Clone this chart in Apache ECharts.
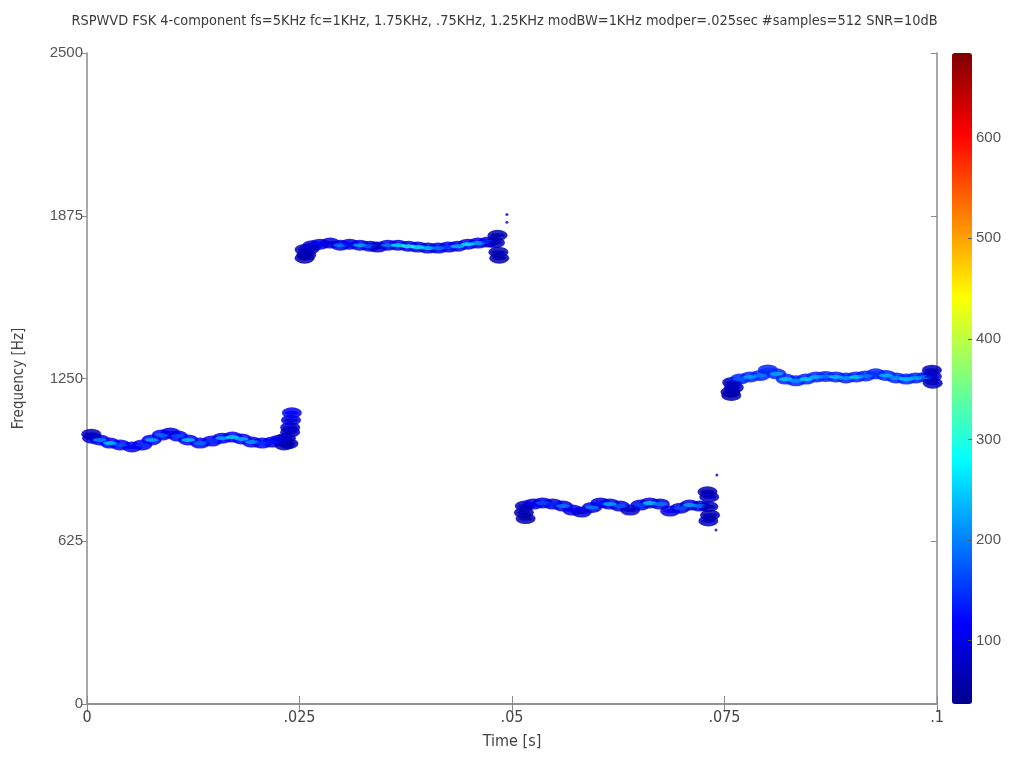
<!DOCTYPE html>
<html><head><meta charset="utf-8">
<script src="https://cdn.jsdelivr.net/npm/echarts@6/dist/echarts.min.js"></script>
<style>html,body{margin:0;padding:0;background:#fff}#c{width:1009px;height:767px}</style>
</head><body><div id="c"></div>
<script>
// ---- data ----
const titleText = 'RSPWVD FSK 4-component fs=5KHz fc=1KHz, 1.75KHz, .75KHz, 1.25KHz modBW=1KHz modper=.025sec #samples=512 SNR=10dB';
const xTickLabels = ['0', '.025', '.05', '.075', '.1'];
const yTicks = [0, 625, 1250, 1875, 2500];
const colorTicks = [100, 200, 300, 400, 500, 600];
const colorRange = [37, 684];

// component 1 (~1 kHz)
const seg1T = [0.0006,0.0015,0.0027,0.0039,0.0053,0.0065,0.0076,0.0088,0.0098,0.0107,0.0119,0.0133,0.0147,0.0159,0.0171,0.0182,0.0194,0.0206,0.0218,0.0227,0.0234,0.0239, 0.0005,0.0232,0.0237,0.0239,0.0240,0.0241];
const seg1F = [1021,1014,1002,995,987,995,1014,1033,1041,1029,1014,1002,1010,1021,1025,1018,1006,1002,1006,1014,1021,1044, 1036,995,1000,1062,1090,1118];
const seg1Z = [80,210,250,170,110,150,230,190,100,170,250,190,150,230,260,240,220,150,130,100,80,70, 70,70,60,80,90,110];
// component 2 (~1.75 kHz)
const seg2T = [0.0256,0.0265,0.0274,0.0286,0.0298,0.0309,0.0321,0.0333,0.0342,0.0354,0.0366,0.0378,0.0389,0.0401,0.0413,0.0425,0.0436,0.0448,0.0460,0.0472,0.0480, 0.0256,0.0258,0.0262,0.0483,0.0484,0.0485];
const seg2F = [1745,1760,1766,1770,1762,1766,1762,1758,1755,1762,1762,1758,1755,1751,1751,1755,1758,1766,1770,1774,1772, 1712,1725,1748,1800,1735,1712];
const seg2Z = [70,90,110,90,200,120,230,180,80,200,270,300,280,250,200,160,240,280,230,150,70, 60,60,70,60,60,60];
// component 3 (~0.75 kHz)
const seg3T = [0.0515,0.0525,0.0536,0.0548,0.0560,0.0571,0.0582,0.0594,0.0604,0.0615,0.0627,0.0639,0.0651,0.0662,0.0674,0.0686,0.0698,0.0709,0.0721,0.0731, 0.0514,0.0516,0.0730,0.0732,0.0733,0.0731];
const seg3F = [760,768,772,768,760,745,737,755,772,768,760,745,764,772,768,741,752,764,760,758, 735,712,815,795,725,703];
const seg3Z = [70,110,170,140,200,110,90,200,130,230,180,80,160,250,200,110,170,230,200,70, 60,60,60,70,60,70];
// component 4 (~1.25 kHz)
const seg4T = [0.0759,0.0768,0.0780,0.0792,0.0801,0.0811,0.0822,0.0834,0.0846,0.0858,0.0869,0.0881,0.0893,0.0905,0.0916,0.0928,0.0940,0.0952,0.0964,0.0975,0.0987,0.0994, 0.0757,0.0758,0.0761,0.0994,0.0995];
const seg4F = [1235,1248,1256,1262,1283,1268,1248,1241,1248,1256,1258,1256,1252,1256,1260,1268,1262,1252,1248,1252,1256,1258, 1198,1185,1215,1282,1232];
const seg4Z = [70,180,230,200,150,230,250,220,260,240,200,250,220,260,200,150,240,220,250,230,200,90, 60,60,70,70,70];
// spread (outer envelope) intensity per component
const edgeLevels = [110, 100, 95, 140];
// isolated specks
const speckT = [0.0494,0.0494,0.0741,0.0740];
const speckF = [1880,1850,879,668];
const speckZ = [90,90,100,100];

// ---- build ----
const segs = [[seg1T,seg1F,seg1Z],[seg2T,seg2F,seg2Z],[seg3T,seg3F,seg3Z],[seg4T,seg4F,seg4Z]];
const envData = [], coreData = [];
segs.forEach((s, k) => {
  s[0].forEach((t, i) => {
    envData.push([t, s[1][i], Math.min(edgeLevels[k], s[2][i])]);
    coreData.push([t, s[1][i], s[2][i]]);
  });
});
const speckData = speckT.map((t, i) => [t, speckF[i], speckZ[i]]);

const axisCol = '#8c8c8c';
const condensed = '"Liberation Sans Narrow","DejaVu Sans Condensed","Roboto Condensed",sans-serif';
const regular = '"Liberation Sans",Arial,sans-serif';

const chart = echarts.init(document.getElementById('c'));
chart.setOption({
  backgroundColor: '#fff',
  animation: false,
  title: {
    text: titleText, left: 'center', top: 9,
    textStyle: { fontFamily: condensed, fontSize: 14.4, fontWeight: 'normal', color: '#3a3a3a' }
  },
  grid: [
    { left: 87, top: 53, width: 850, height: 651, show: false },
    { left: 952, top: 53, width: 20, height: 651, show: false }
  ],
  xAxis: [
    { type: 'value', gridIndex: 0, min: 0, max: 0.1, interval: 0.025, position: 'bottom',
      name: 'Time [s]', nameLocation: 'middle', nameGap: 30,
      nameTextStyle: { fontFamily: condensed, fontSize: 16, color: '#444' },
      axisLine: { lineStyle: { color: axisCol, width: 1.5 } },
      axisTick: { inside: true, length: 8, lineStyle: { color: axisCol } },
      axisLabel: { fontFamily: condensed, fontSize: 16, color: '#444', margin: 6,
        formatter: (v, i) => xTickLabels[i] },
      splitLine: { show: false } },
    { type: 'value', gridIndex: 0, min: 0, max: 0.1, interval: 0.025, position: 'top',
      axisLine: { lineStyle: { color: axisCol, width: 1.5 } },
      axisTick: { inside: true, length: 8, lineStyle: { color: axisCol } },
      axisLabel: { show: false }, splitLine: { show: false } },
    { type: 'value', gridIndex: 1, min: 0, max: 1, show: false }
  ],
  yAxis: [
    { type: 'value', gridIndex: 0, min: 0, max: 2500, interval: 625, position: 'left',
      name: 'Frequency [Hz]', nameLocation: 'middle', nameGap: 60, nameRotate: 90,
      nameTextStyle: { fontFamily: condensed, fontSize: 15, color: '#444' },
      axisLine: { lineStyle: { color: axisCol, width: 1.5 } },
      axisTick: { inside: false, length: 5, lineStyle: { color: axisCol } },
      axisLabel: { fontFamily: regular, fontSize: 15, color: '#555', margin: 4,
        formatter: (v) => yTicks.includes(v) ? String(v) : '' },
      splitLine: { show: false } },
    { type: 'value', gridIndex: 0, min: 0, max: 2500, interval: 625, position: 'right',
      axisLine: { onZero: false, lineStyle: { color: axisCol, width: 1.5 } },
      axisTick: { inside: true, length: 6, lineStyle: { color: axisCol } },
      axisLabel: { show: false }, splitLine: { show: false } },
    { type: 'value', gridIndex: 1, min: colorRange[0], max: colorRange[1], position: 'right', z: 20,
      axisLine: { show: false, onZero: false },
      axisTick: { show: true, inside: true, length: 4, customValues: colorTicks, lineStyle: { color: '#555' } },
      axisLabel: { fontFamily: regular, fontSize: 15, color: '#555', margin: 4, customValues: colorTicks },
      splitLine: { show: false } }
  ],
  visualMap: {
    type: 'continuous', min: colorRange[0], max: colorRange[1], dimension: 2, z: 1,
    seriesIndex: [0, 1, 2], calculable: false, hoverLink: false,
    left: 952, top: 53, itemWidth: 20, itemHeight: 651, padding: 0, text: null,
    inRange: { color: ['#00008F','#0000FF','#007FFF','#00FFFF','#7FFF7F','#FFFF00','#FF7F00','#FF0000','#7F0000'] }
  },
  series: [
    { type: 'scatter', xAxisIndex: 0, yAxisIndex: 0, data: envData, symbol: 'circle', symbolSize: [20, 11], itemStyle: { opacity: 0.85 } },
    { type: 'scatter', xAxisIndex: 0, yAxisIndex: 0, data: coreData, symbol: 'circle', symbolSize: [14, 4] },
    { type: 'scatter', xAxisIndex: 0, yAxisIndex: 0, data: speckData, symbolSize: 3 },
    { type: 'scatter', xAxisIndex: 2, yAxisIndex: 2, data: [] }
  ]
});
</script></body></html>
